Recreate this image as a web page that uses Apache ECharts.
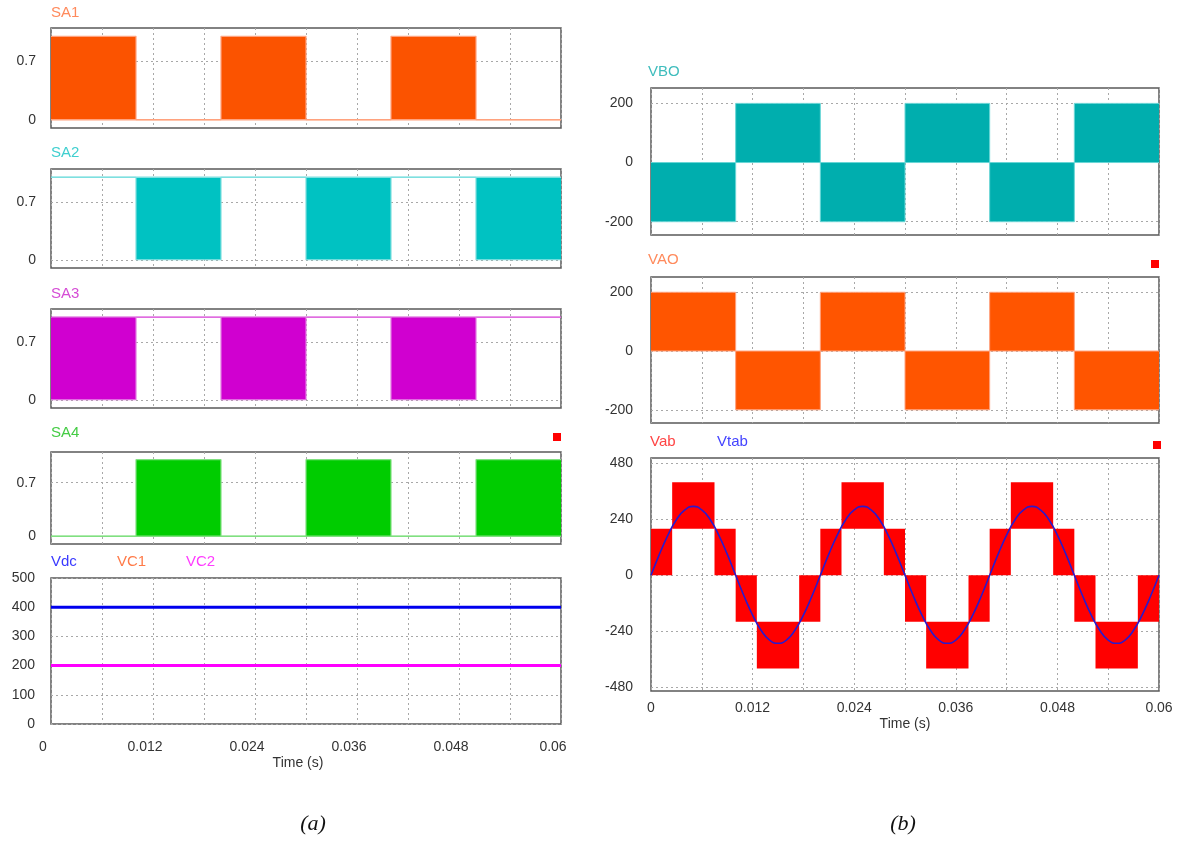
<!DOCTYPE html>
<html>
<head>
<meta charset="utf-8">
<script src="https://cdn.jsdelivr.net/npm/echarts@6/dist/echarts.min.js"></script>
<style>html,body{margin:0;padding:0;background:#fff}#c{width:1181px;height:841px}</style>
</head>
<body>
<div id="c"></div>
<script>
// ---------- DATA ----------
const tEdges = [0, 0.01, 0.02, 0.03, 0.04, 0.05, 0.06];
// switching envelopes per segment (lo == hi => constant level, lo != hi => PWM band)
const sa1Lo = [0, 0, 0, 0, 0, 0];
const sa1Hi = [1, 0, 1, 0, 1, 0];
const sa2Lo = [1, 0, 1, 0, 1, 0];
const sa2Hi = [1, 1, 1, 1, 1, 1];
const sa3Lo = [0, 1, 0, 1, 0, 1];
const sa3Hi = [1, 1, 1, 1, 1, 1];
const sa4Lo = [0, 0, 0, 0, 0, 0];
const sa4Hi = [0, 1, 0, 1, 0, 1];

const dcTime = [0, 0.06];
const vdc = [400, 400];
const vc1 = [200, 200];
const vc2 = [200, 200];

const vboLo = [-200, 0, -200, 0, -200, 0];
const vboHi = [0, 200, 0, 200, 0, 200];
const vaoLo = [0, -200, 0, -200, 0, -200];
const vaoHi = [200, 0, 200, 0, 200, 0];

const vabEdges = [0, 0.0025, 0.0075, 0.01, 0.0125, 0.0175, 0.02, 0.0225, 0.0275, 0.03,
                  0.0325, 0.0375, 0.04, 0.0425, 0.0475, 0.05, 0.0525, 0.0575, 0.06];
const vabLo = [0, 200, 0, -200, -400, -200, 0, 200, 0, -200, -400, -200, 0, 200, 0, -200, -400, -200];
const vabHi = [200, 400, 200, 0, -200, 0, 200, 400, 200, 0, -200, 0, 200, 400, 200, 0, -200, 0];

const vtabStep = 0.001;
const vtab = [0, 91, 173, 239, 281, 296, 281, 239, 173, 91,
              0, -90, -171, -236, -278, -292, -278, -236, -171, -90,
              0, 91, 173, 239, 281, 296, 281, 239, 173, 91,
              0, -90, -171, -236, -278, -292, -278, -236, -171, -90,
              0, 91, 173, 239, 281, 296, 281, 239, 173, 91,
              0, -90, -171, -236, -278, -292, -278, -236, -171, -90, 0];

const xTickLabels = [0, 0.012, 0.024, 0.036, 0.048, 0.06];
const saTicks = [0, 0.7];
const dcTicks = [0, 100, 200, 300, 400, 500];
const vTicks = [-200, 0, 200];
const vabTicks = [-480, -240, 0, 240, 480];

// ---------- HELPERS ----------
const FF = '"Liberation Sans", Arial, sans-serif';
function bands(edges, lo, hi) {
  const out = [];
  for (let i = 0; i < lo.length; i++) if (lo[i] !== hi[i]) out.push([edges[i], edges[i + 1], lo[i], hi[i]]);
  return out;
}
function stepPts(edges, v) {
  const out = [];
  for (let i = 0; i < v.length; i++) { out.push([edges[i], v[i]]); out.push([edges[i + 1], v[i]]); }
  return out;
}
function bandSeries(gi, data, color) {
  return {
    type: 'custom', xAxisIndex: gi, yAxisIndex: gi, clip: true, z: 2,
    encode: { x: [0, 1], y: [2, 3] },
    data: data,
    renderItem: function (params, api) {
      const p1 = api.coord([api.value(0), api.value(3)]);
      const p2 = api.coord([api.value(1), api.value(2)]);
      return { type: 'rect', shape: { x: p1[0], y: p1[1], width: p2[0] - p1[0], height: p2[1] - p1[1] },
               style: { fill: color } };
    }
  };
}
function lineSeries(gi, data, color, width, z, smooth) {
  return { type: 'line', xAxisIndex: gi, yAxisIndex: gi, data: data, showSymbol: false, symbol: 'none',
           smooth: !!smooth, lineStyle: { color: color, width: width }, z: z || 3, animation: false };
}
const gridLine = { show: true, lineStyle: { color: '#a8a8a8', type: [2, 3], width: 1 } };

const grids = [
  { left: 51, top: 28, width: 510, height: 100 },
  { left: 51, top: 169, width: 510, height: 99 },
  { left: 51, top: 309, width: 510, height: 99 },
  { left: 51, top: 452, width: 510, height: 92 },
  { left: 51, top: 578, width: 510, height: 146 },
  { left: 651, top: 88, width: 508, height: 147 },
  { left: 651, top: 277, width: 508, height: 146 },
  { left: 651, top: 458, width: 508, height: 233 }
].map(g => Object.assign({ show: true, borderColor: '#5a5a5a', borderWidth: 1.5, backgroundColor: '#fff' }, g));

function xLabelFmt(v) {
  for (const t of xTickLabels) if (Math.abs(v - t) < 1e-9) return String(t);
  return '';
}
const xAxes = grids.map((g, i) => {
  const showLab = (i === 4 || i === 7);
  const leftSide = i < 5;
  return {
    type: 'value', gridIndex: i, min: 0, max: 0.06, interval: 0.006,
    axisLine: { show: false }, axisTick: { show: false }, splitLine: gridLine,
    axisLabel: { show: showLab, formatter: xLabelFmt, color: '#333', fontSize: 14, fontFamily: FF,
                 margin: leftSide ? 16 : 10, padding: leftSide ? [0, 16, 0, 0] : 0 },
    name: showLab ? 'Time (s)' : '', nameLocation: 'middle', nameGap: leftSide ? 32 : 26,
    nameTextStyle: { color: '#333', fontSize: 14, fontFamily: FF, padding: leftSide ? [0, 16, 0, 0] : 0 }
  };
});
function yAxis(gi, min, max, ticks, interval, margin) {
  const ax = { type: 'value', gridIndex: gi, min: min, max: max,
    axisLine: { show: false }, splitLine: gridLine,
    axisLabel: { color: '#333', fontSize: 14, fontFamily: FF, margin: margin },
    axisTick: { show: false } };
  if (interval) { ax.interval = interval; }
  else { ax.axisLabel.customValues = ticks; ax.axisTick.customValues = ticks; }
  return ax;
}
const yAxes = [
  yAxis(0, -0.1, 1.1, saTicks, null, 15),
  yAxis(1, -0.1, 1.1, saTicks, null, 15),
  yAxis(2, -0.1, 1.1, saTicks, null, 15),
  yAxis(3, -0.1, 1.1, saTicks, null, 15),
  yAxis(4, 0, 500, dcTicks, 100, 16),
  yAxis(5, -245, 252, vTicks, null, 18),
  yAxis(6, -245, 252, vTicks, null, 18),
  yAxis(7, -497, 504, vabTicks, null, 18)
];

const vtabPts = vtab.map((v, i) => [+(i * vtabStep).toFixed(4), v]);

const series = [
  bandSeries(0, bands(tEdges, sa1Lo, sa1Hi), '#FB5300'),
  lineSeries(0, stepPts(tEdges, sa1Lo), '#FFA27E', 1.5),
  lineSeries(0, stepPts(tEdges, sa1Hi), '#FFA27E', 1.2),
  bandSeries(1, bands(tEdges, sa2Lo, sa2Hi), '#00C2C2'),
  lineSeries(1, stepPts(tEdges, sa2Hi), '#7FE0E0', 1.5),
  lineSeries(1, stepPts(tEdges, sa2Lo), '#7FE0E0', 1.2),
  bandSeries(2, bands(tEdges, sa3Lo, sa3Hi), '#D000D0'),
  lineSeries(2, stepPts(tEdges, sa3Hi), '#D84AD8', 1.5),
  lineSeries(2, stepPts(tEdges, sa3Lo), '#E27AE2', 1.2),
  bandSeries(3, bands(tEdges, sa4Lo, sa4Hi), '#00CC00'),
  lineSeries(3, stepPts(tEdges, sa4Lo), '#80E080', 1.5),
  lineSeries(3, stepPts(tEdges, sa4Hi), '#80E080', 1.2),
  lineSeries(4, dcTime.map((t, i) => [t, vdc[i]]), '#0000EE', 3),
  lineSeries(4, dcTime.map((t, i) => [t, vc1[i]]), '#FF6A30', 3),
  lineSeries(4, dcTime.map((t, i) => [t, vc2[i]]), '#FF00FF', 3),
  bandSeries(5, bands(tEdges, vboLo, vboHi), '#00AEAE'),
  lineSeries(5, stepPts(tEdges, vboLo), '#6AD6D6', 1),
  lineSeries(5, stepPts(tEdges, vboHi), '#6AD6D6', 1),
  bandSeries(6, bands(tEdges, vaoLo, vaoHi), '#FF5500'),
  lineSeries(6, stepPts(tEdges, vaoLo), '#FFA27E', 1),
  lineSeries(6, stepPts(tEdges, vaoHi), '#FFA27E', 1),
  bandSeries(7, bands(vabEdges, vabLo, vabHi), '#FF0000'),
  lineSeries(7, vtabPts, '#2A1ACC', 1.6, 4, true)
];

function lab(text, left, top, color) {
  return { text: text, left: left, top: top, padding: 0,
           textStyle: { color: color, fontSize: 15, fontWeight: 'normal', fontFamily: FF } };
}
const titles = [
  lab('SA1', 51, 5, '#FF8A5C'),
  lab('SA2', 51, 145, '#3FCFCF'),
  lab('SA3', 51, 286, '#D54CD5'),
  lab('SA4', 51, 425, '#44CC44'),
  lab('Vdc', 51, 554, '#3A3AFF'),
  lab('VC1', 117, 554, '#FF7A48'),
  lab('VC2', 186, 554, '#FF3CFF'),
  lab('VBO', 648, 64, '#3FBDBD'),
  lab('VAO', 648, 252, '#FF8A5C'),
  lab('Vab', 650, 434, '#FF4444'),
  lab('Vtab', 717, 434, '#4444FF')
];

const chart = echarts.init(document.getElementById('c'), null, { renderer: 'canvas' });
chart.setOption({
  backgroundColor: '#fff',
  animation: false,
  title: titles,
  grid: grids,
  xAxis: xAxes,
  yAxis: yAxes,
  series: series,
  graphic: [
    { type: 'rect', shape: { x: 553, y: 433, width: 8, height: 8 }, style: { fill: '#FF0000' } },
    { type: 'rect', shape: { x: 1151, y: 260, width: 8, height: 8 }, style: { fill: '#FF0000' } },
    { type: 'rect', shape: { x: 1153, y: 441, width: 8, height: 8 }, style: { fill: '#FF0000' } },
    { type: 'text', x: 313, y: 824, style: { text: '(a)', font: 'italic 22px "Liberation Serif", "Times New Roman", serif', fill: '#111', align: 'center', verticalAlign: 'middle' } },
    { type: 'text', x: 903, y: 824, style: { text: '(b)', font: 'italic 22px "Liberation Serif", "Times New Roman", serif', fill: '#111', align: 'center', verticalAlign: 'middle' } }
  ]
});
</script>
</body>
</html>
